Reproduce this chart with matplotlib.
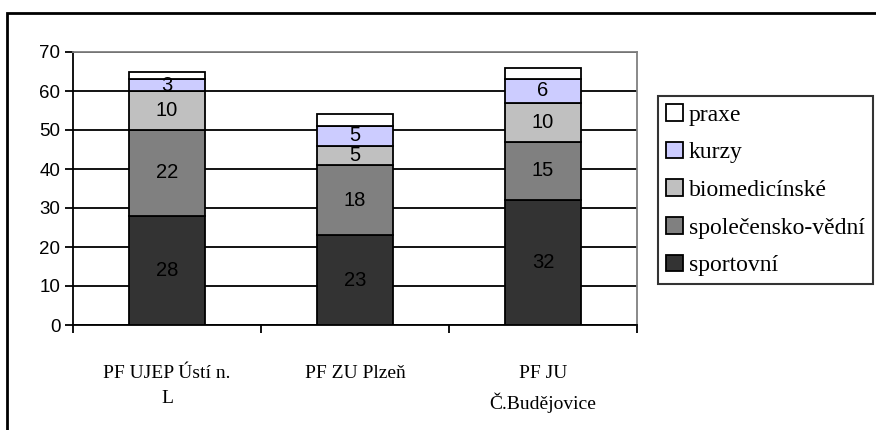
import matplotlib.pyplot as plt
from matplotlib.patches import Rectangle
import numpy as np

# Data
schools = ['PF UJEP Ústí n.\nL', 'PF ZU Plzeň', 'PF JU\nČ.Budějovice']
series = ['sportovní', 'společensko-vědní', 'biomedicínské', 'kurzy', 'praxe']
sportovni = [28, 23, 32]
spolecensko = [22, 18, 15]
biomed = [10, 5, 10]
kurzy = [3, 5, 6]
praxe = [2, 3, 3]
colors = ['#333333', '#808080', '#c0c0c0', '#ccccff', '#ffffff']
show_labels = [True, True, True, True, False]

fig = plt.figure(figsize=(8.76, 4.30), dpi=100)
ax = fig.add_axes([73/876, 1 - 325/430, (637-73)/876, (325-52)/430])

# Outer frame of the chart
fig.patches.append(Rectangle((7/876, -0.1), 1.2, 1 - 13/430 + 0.1,
                             transform=fig.transFigure, fill=False,
                             edgecolor='black', linewidth=2.0, zorder=0))

x = np.arange(len(schools))
bottom = np.zeros(len(schools))
handles = []
for name, vals, col, lab in zip(series, [sportovni, spolecensko, biomed, kurzy, praxe],
                                colors, show_labels):
    bars = ax.bar(x, vals, width=0.404, bottom=bottom, color=col,
                  edgecolor='black', linewidth=1.3, label=name, zorder=3)
    if lab:
        for xi, b, v in zip(x, bottom, vals):
            ax.text(xi, b + v / 2, str(v), ha='center', va='center',
                    fontsize=14.5, family='Liberation Sans', zorder=4)
    bottom += np.array(vals)
    handles.append(bars)

ax.set_xlim(-0.5, 2.5)
ax.set_ylim(0, 70)
ax.set_yticks(range(0, 71, 10))
ax.yaxis.grid(True, color='black', linewidth=1.3, zorder=1)
ax.tick_params(axis='y', length=6, width=1.3, labelsize=13.5, pad=3)
for t in ax.get_yticklabels():
    t.set_family('Liberation Sans')

ax.set_xticks([-0.5, 0.5, 1.5, 2.5])
ax.set_xticklabels([])
ax.tick_params(axis='x', which='major', length=6, width=1.3)
ax.set_xticks(x, minor=True)
ax.set_xticklabels(schools, minor=True, family='Liberation Serif', fontsize=14,
                   linespacing=1.6)
ax.tick_params(axis='x', which='minor', length=0, pad=29)

ax.spines['left'].set_linewidth(1.3)
ax.spines['bottom'].set_linewidth(1.3)
ax.spines['top'].set_color('#808080')
ax.spines['right'].set_color('#808080')
ax.spines['top'].set_linewidth(1.3)
ax.spines['right'].set_linewidth(1.3)

leg = fig.legend(handles[::-1], series[::-1], loc='upper left',
                 bbox_to_anchor=(658/876, 1 - 96/430),
                 prop={'family': 'Liberation Serif', 'size': 17},
                 frameon=True, fancybox=False, edgecolor='black',
                 handlelength=0.7, handleheight=0.7, handletextpad=0.25,
                 labelspacing=0.68, borderpad=0.35, borderaxespad=0)
leg.get_frame().set_linewidth(1.5)

fig.savefig('out.png', dpi=100)
